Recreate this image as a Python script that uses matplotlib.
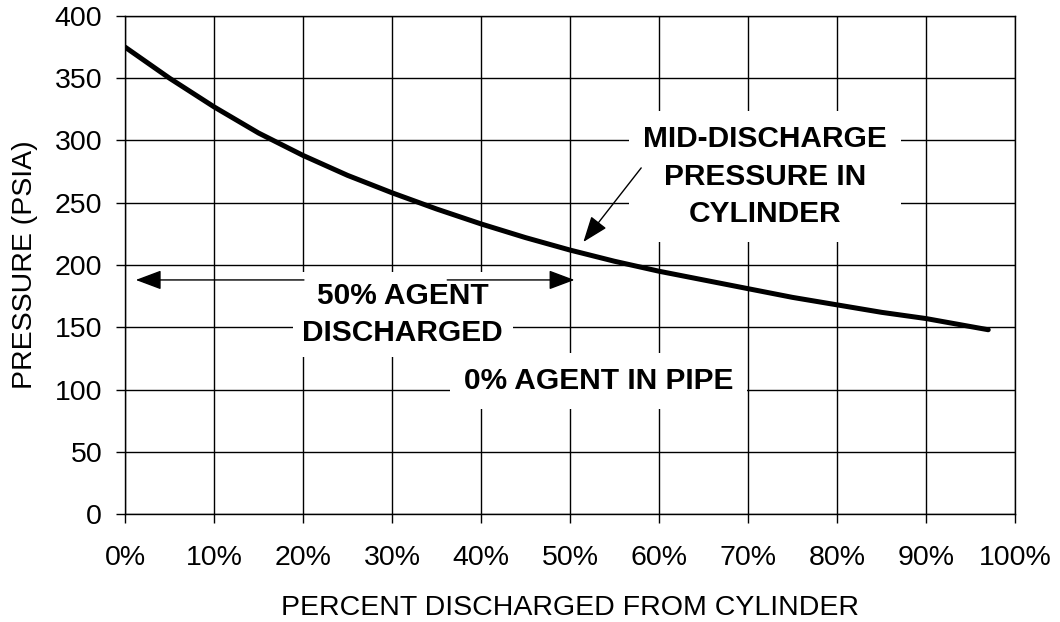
import matplotlib
matplotlib.use("Agg")
import matplotlib.pyplot as plt
from matplotlib.ticker import FuncFormatter

plt.rcParams['font.family'] = ['Liberation Sans', 'DejaVu Sans']

# percent discharged from cylinder vs. cylinder pressure
pct_discharged = [0, 5, 10, 15, 20, 25, 30, 35, 40, 45, 50, 55, 60, 65, 70, 75, 80, 85, 90, 97]
pressure_psia = [375, 350, 327, 306, 288, 272, 258, 245, 233, 222, 212, 203, 195, 188, 181, 174, 168, 162, 157, 148]

x_ticks = list(range(0, 101, 10))
y_ticks = list(range(0, 401, 50))

fig = plt.figure(figsize=(10.6, 6.22), dpi=100)
ax = fig.add_axes([0.118, 0.1736, 0.8395, 0.8007])

ax.plot(pct_discharged, pressure_psia, color='black', lw=3.6, solid_capstyle='round', zorder=3)

ax.set_xlim(0, 100)
ax.set_ylim(0, 400)
ax.set_xticks(x_ticks)
ax.set_yticks(y_ticks)
ax.xaxis.set_major_formatter(FuncFormatter(lambda v, p: f"{v:.0f}%"))
ax.grid(True, color='black', lw=1.0)
ax.set_axisbelow(True)
for s in ax.spines.values():
    s.set_color('black')
    s.set_linewidth(1.0)
ax.tick_params(direction='out', length=6.5, width=1, labelsize=20.5, colors='black')
ax.tick_params(axis='y', pad=10)
ax.tick_params(axis='x', pad=16)

ax.set_xlabel('PERCENT DISCHARGED FROM CYLINDER', fontsize=20.5, labelpad=17)
ax.set_ylabel('PRESSURE (PSIA)', fontsize=20.5, labelpad=12)

bold = dict(fontsize=21.5, fontweight='bold', ha='center', va='center', zorder=5,
            linespacing=1.42)

# 50% agent discharged, with double arrows
ax.text(31.2, 160, '50% AGENT\nDISCHARGED', bbox=dict(facecolor='white', edgecolor='none', pad=7), **bold)
arrow = dict(arrowstyle='-|>,head_length=1.6,head_width=0.6', color='black', lw=1.0, shrinkA=0, shrinkB=0)
ax.annotate('', xy=(1.2, 188), xytext=(20.1, 188), arrowprops=arrow, zorder=6)
ax.annotate('', xy=(50.5, 188), xytext=(36.2, 188), arrowprops=arrow, zorder=6)

ax.text(53.2, 106.5, '0% AGENT IN PIPE', bbox=dict(facecolor='white', edgecolor='none', pad=10), **bold)

ax.text(71.9, 271, 'MID-DISCHARGE\nPRESSURE IN\nCYLINDER', bbox=dict(facecolor='white', edgecolor='none', pad=10), **bold)
ax.annotate('', xy=(51.5, 218.5), xytext=(58.0, 278), arrowprops=arrow, zorder=6)

fig.savefig('out.png', dpi=100)
